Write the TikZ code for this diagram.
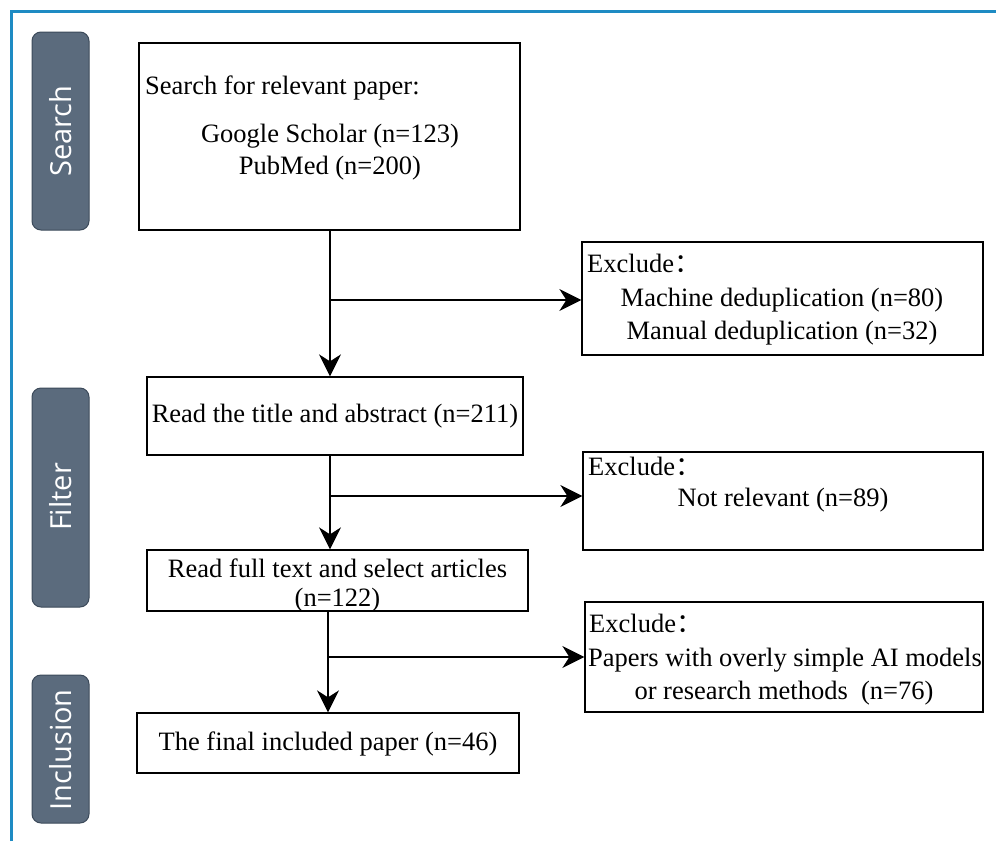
\documentclass[tikz,border=0pt]{standalone}
\usepackage{fontspec}
\setmainfont{Liberation Serif}
\newfontfamily\tabfont{Open Sans}
\newfontfamily\cjk{Noto Sans CJK SC}
\usetikzlibrary{arrows.meta}
\definecolor{frameblue}{HTML}{1E8BC3}
\definecolor{tabgray}{HTML}{5B6B7D}
\definecolor{tabedge}{HTML}{3C4A5A}
\begin{document}
\begin{tikzpicture}[x=1pt,y=-1pt,
  box/.style={draw=black,line width=1.3pt,inner sep=0pt},
  tabbox/.style={draw=tabedge,fill=tabgray,rounded corners=9pt,line width=1pt},
  tablabel/.style={text=white,font=\tabfont\fontsize{29}{34}\selectfont,rotate=90},
  txt/.style={font=\fontsize{26.5}{30}\selectfont,inner sep=0pt,yshift=-3pt},
  arr/.style={line width=1.5pt,-{Stealth[length=22pt,width=22pt,inset=7pt]}}
]
\useasboundingbox (0,0) rectangle (996,841);
\fill[white] (0,0) rectangle (996,841);
% frame
\draw[frameblue,line width=3pt] (11,841) -- (11,11) -- (996,11);
% tabs
\draw[tabbox] (32,32) rectangle (89,230);
\node[tablabel] (tsearch) at (61,131) {Search};
\draw[tabbox] (32,388) rectangle (89,607);
\node[tablabel] (tfilter) at (61,497) {Filter};
\draw[tabbox] (32,675) rectangle (89,823);
\node[tablabel] (tincl) at (61,750) {Inclusion};
% main boxes
\node[box,minimum width=381pt,minimum height=187pt] (b1) at (329.5,136.5) {};
\node[txt,anchor=west] (b1a) at (145,85) {Search for relevant paper:};
\node[txt] (b1b) at (330,133) {Google Scholar (n=123)};
\node[txt] (b1c) at (330,165) {PubMed (n=200)};

\node[box,minimum width=376pt,minimum height=78pt] (b2) at (335,416) {};
\node[txt] (b2a) at (335,413) {Read the title and abstract (n=211)};

\node[box,minimum width=381pt,minimum height=61pt] (b3) at (337.5,580.5) {};
\node[txt] (b3a) at (337.5,565) {Read full text and select articles};
\node[txt] (b3b) at (337.5,597) {(n=122)};

\node[box,minimum width=382pt,minimum height=60pt] (b4) at (328,743) {};
\node[txt] (b4a) at (328,741) {The final included paper (n=46)};

% exclude boxes
\node[box,minimum width=401pt,minimum height=113pt] (e1) at (782.5,298.5) {};
\node[txt,anchor=west] (e1a) at (587,260) {Exclude{\cjk ：}};
\node[txt] (e1b) at (782,297) {Machine deduplication (n=80)};
\node[txt] (e1c) at (782,330) {Manual deduplication (n=32)};

\node[box,minimum width=400pt,minimum height=98pt] (e2) at (783,501) {};
\node[txt,anchor=west] (e2a) at (588,463) {Exclude{\cjk ：}};
\node[txt] (e2b) at (783,497) {Not relevant (n=89)};

\node[box,minimum width=398pt,minimum height=110pt] (e3) at (784,657) {};
\node[txt,anchor=west] (e3a) at (589,620) {Exclude{\cjk ：}};
\node[txt] (e3b) at (785,657) {Papers with overly simple AI models};
\node[txt] (e3c) at (784,690) {or research methods\ \ (n=76)};

% connectors
\coordinate (j1) at (330,300);
\coordinate (j2) at (330,496);
\coordinate (j3) at (328,657);
\draw[arr] (b1.south -| j1) -- (b2.north -| j1);
\draw[arr] (j1) -- (e1.west |- j1);
\draw[arr] (b2.south -| j2) -- (b3.north -| j2);
\draw[arr] (j2) -- (e2.west |- j2);
\draw[arr] (b3.south -| j3) -- (b4.north -| j3);
\draw[arr] (j3) -- (e3.west |- j3);
\end{tikzpicture}
\end{document}
